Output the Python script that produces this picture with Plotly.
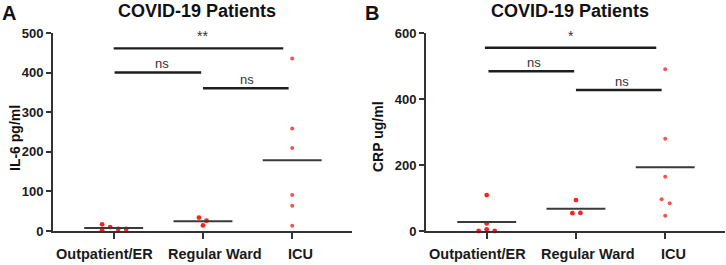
import plotly.graph_objects as go

# ---------------- data ----------------
categories = ["Outpatient/ER", "Regular Ward", "ICU"]

il6_outpatient = [17, 2, 10, 5, 5]
il6_ward = [34, 26, 14]
il6_icu = [436, 259, 210, 91, 64, 13]

crp_outpatient = [109, 23, 0, 5, 0]
crp_ward = [94, 54, 55]
crp_icu = [491, 280, 165, 96, 84, 46]

# horizontal scatter spread of points (category units)
il6_spread = [[-0.13, -0.13, -0.04, 0.05, 0.14], [-0.045, 0.04, 0.0], [0, 0, 0, 0, 0, 0]]
crp_spread = [[0.0, 0.0, -0.09, 0.0, 0.09], [0.0, -0.04, 0.05], [0, 0, 0, -0.04, 0.05, 0]]

# significance comparisons: (from, to, height, label, label position)
il6_sig = [(0.0, 1.90, 462, "**", 1.0), (0.01, 0.98, 401, "ns", 0.54), (1.0, 1.96, 361, "ns", 1.49)]
crp_sig = [(-0.02, 1.90, 556, "*", 0.94), (0.02, 0.98, 485, "ns", 0.53), (1.0, 1.96, 428, "ns", 1.52)]

il6_ticks = [0, 100, 200, 300, 400, 500]
crp_ticks = [0, 200, 400, 600]

# ---------------- style ----------------
FONT = "Liberation Sans, Arial, Helvetica, sans-serif"
AX = "#333333"
W, H = 726, 265
y_bot = (H - 231) / H
y_top = (H - 33.3) / H
MEAN_HALF = 0.33
LABEL_SHIFT = [-0.10, 0.135, 0.09]   # horizontal offset of category labels

fig = go.Figure()

def add_panel(groups, spread, sig, xref, yref):
    for i, (vals, sp) in enumerate(zip(groups, spread)):
        xs = [i + s for s in sp]
        icu = (i == 2)
        fig.add_trace(go.Scatter(x=xs, y=vals, mode="markers", xaxis=xref, yaxis=yref,
                                 marker=dict(color="#ff5050" if icu else "#ff1f1f",
                                             size=4 if icu else 4.8, line=dict(width=0)),
                                 cliponaxis=False, showlegend=False, hoverinfo="y"))
        m = sum(vals) / len(vals)
        fig.add_trace(go.Scatter(x=[i - MEAN_HALF, i + MEAN_HALF], y=[m, m], mode="lines",
                                 xaxis=xref, yaxis=yref, line=dict(color="#3a3a3a", width=2),
                                 cliponaxis=False, showlegend=False, hoverinfo="skip"))
    for (a, b, h, lab, lx) in sig:
        fig.add_trace(go.Scatter(x=[a, b], y=[h, h], mode="lines", xaxis=xref, yaxis=yref,
                                 line=dict(color="#1e1e1e", width=2.4), cliponaxis=False,
                                 showlegend=False, hoverinfo="skip"))
        fig.add_annotation(x=lx, y=h, xref=xref, yref=yref, text=lab, showarrow=False,
                           yanchor="bottom", yshift=-1 if lab == "ns" else 2,
                           font=dict(family=FONT, size=13 if lab == "ns" else 14, color="#333333"))
    # category labels under the axis
    for i, cat in enumerate(categories):
        fig.add_annotation(x=i + LABEL_SHIFT[i], y=0, xref=xref, yref=yref, text=cat,
                           showarrow=False, yanchor="middle", yshift=-23,
                           font=dict(family=FONT, size=14.5, color="#1a1a1a", weight="bold"))

add_panel([il6_outpatient, il6_ward, il6_icu], il6_spread, il6_sig, "x", "y")
add_panel([crp_outpatient, crp_ward, crp_icu], crp_spread, crp_sig, "x2", "y2")

xcommon = dict(range=[-0.68, 2.67], tickmode="array", tickvals=[0, 1, 2], ticktext=categories,
               showticklabels=False,
               showline=True, linecolor=AX, linewidth=2, ticks="outside", ticklen=6,
               tickwidth=2, tickcolor=AX, showgrid=False, zeroline=False, automargin=False)
ycommon = dict(showline=True, linecolor=AX, linewidth=2, ticks="outside", ticklen=5,
               tickwidth=2, tickcolor=AX, showgrid=False, zeroline=False, automargin=False,
               tickfont=dict(family=FONT, size=13, color="#1a1a1a", weight="bold"))

fig.update_layout(
    width=W, height=H, margin=dict(l=0, r=0, t=0, b=0, autoexpand=False),
    paper_bgcolor="white", plot_bgcolor="white",
    xaxis=dict(domain=[53 / W, 352 / W], anchor="y", **xcommon),
    yaxis=dict(domain=[y_bot, y_top], anchor="x", range=[0, 500], tickvals=il6_ticks, **ycommon),
    xaxis2=dict(domain=[426 / W, 725 / W], anchor="y2", **xcommon),
    yaxis2=dict(domain=[y_bot, y_top], anchor="x2", range=[0, 600], tickvals=crp_ticks, **ycommon),
)

def paper_text(x, y, text, size, angle=0, xanchor="center", yanchor="middle"):
    fig.add_annotation(x=x / W, y=1 - y / H, xref="paper", yref="paper", text=text,
                       showarrow=False, textangle=angle, xanchor=xanchor, yanchor=yanchor,
                       font=dict(family=FONT, size=size, color="#111111", weight="bold"))

paper_text(197, 11, "COVID-19 Patients", 18)
paper_text(570, 11, "COVID-19 Patients", 18)
paper_text(0, 0, "A", 20, xanchor="left", yanchor="top")
paper_text(363, 0, "B", 20, xanchor="left", yanchor="top")
paper_text(15, 138, "IL-6 pg/ml", 14, angle=-90)
paper_text(378, 137, "CRP ug/ml", 14, angle=-90)

fig.write_html("out.html", config={"displayModeBar": False},
               post_script="document.body.style.margin='0';document.body.style.overflow='hidden';")
